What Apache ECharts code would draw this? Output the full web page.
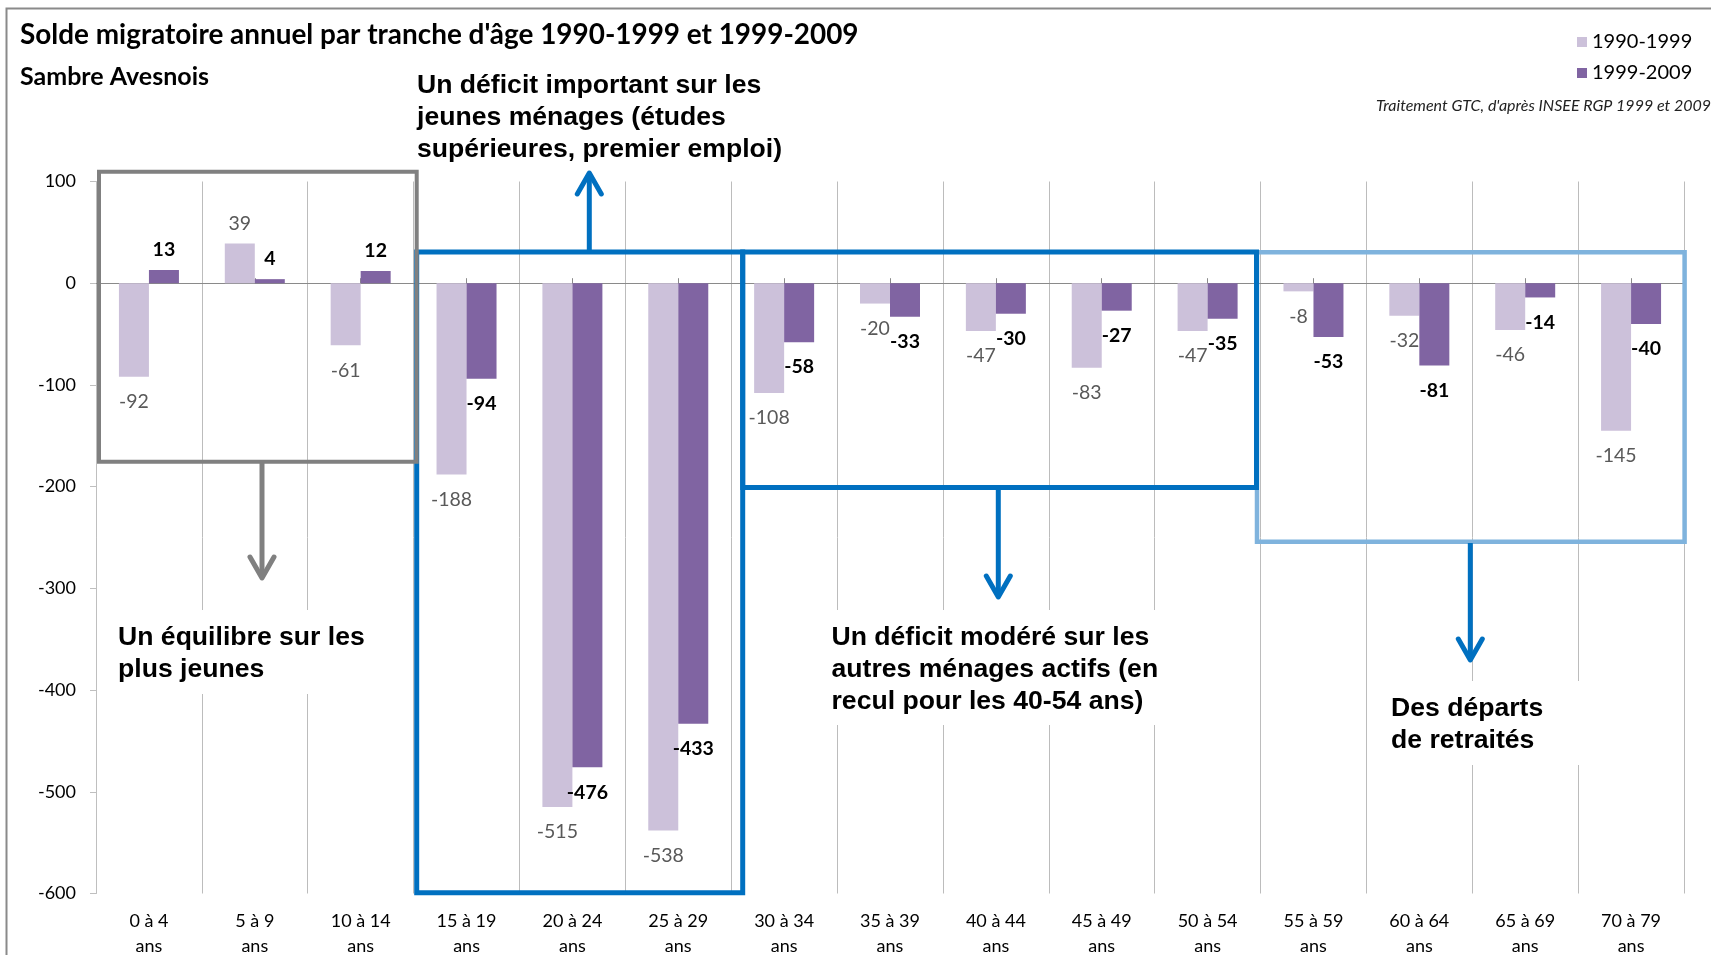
<!DOCTYPE html>
<html lang="fr">
<head>
<meta charset="UTF-8">
<title>Solde migratoire - Sambre Avesnois</title>
<script src="https://cdn.jsdelivr.net/npm/echarts@6/dist/echarts.min.js"></script>
<style>
    html, body { margin: 0; padding: 0; background: #fff; }
    #chart { width: 1711px; height: 955px; }
</style>
</head>
<body>
<div id="chart"></div>
<script type="text/javascript">
// tranches d'age
var categories = ['0 à 4 ans', '5 à 9 ans', '10 à 14 ans', '15 à 19 ans', '20 à 24 ans',
    '25 à 29 ans', '30 à 34 ans', '35 à 39 ans', '40 à 44 ans', '45 à 49 ans',
    '50 à 54 ans', '55 à 59 ans', '60 à 64 ans', '65 à 69 ans', '70 à 79 ans'];
var solde1990_1999 = [-92, 39, -61, -188, -515, -538, -108, -20, -47, -83, -47, -8, -32, -46, -145];
var solde1999_2009 = [13, 4, 12, -94, -476, -433, -58, -33, -30, -27, -35, -53, -81, -14, -40];
var seriesNames = ['1990-1999', '1999-2009'];

var BLUE = '#0070C0', LIGHTBLUE = '#7FB3DD', GREY = '#808080';
var noteFont = 'bold 26.6px "Liberation Sans", Arial, sans-serif';

// label below the bar for negative values, above for positive ones
function withLabelSide(values) {
    return values.map(function (v) {
        return {value: v, label: v < 0 ? {position: 'bottom', distance: 15} : {position: 'top', distance: 10}};
    });
}

function box(x1, y1, x2, y2, color, w) {
    return {type: 'rect', z: 100, shape: {x: x1, y: y1, width: x2 - x1, height: y2 - y1},
        style: {fill: null, stroke: color, lineWidth: w}};
}

function arrow(x, y1, y2, color) {
    var dir = y2 < y1 ? 1 : -1;
    return [
        {type: 'line', z: 101, shape: {x1: x, y1: y1, x2: x, y2: y2 + dir * 3},
            style: {stroke: color, lineWidth: 5}},
        {type: 'polyline', z: 101, shape: {points: [[x - 12, y2 + dir * 21], [x, y2], [x + 12, y2 + dir * 21]]},
            style: {stroke: color, lineWidth: 5, lineCap: 'round', lineJoin: 'round', fill: null}}
    ];
}

function note(x, y, text) {
    return {type: 'text', z: 102, x: x, y: y,
        style: {text: text, font: noteFont, fill: '#000', lineHeight: 31.6, verticalAlign: 'top'}};
}

function whiteBg(x, y, w, h) {
    return {type: 'rect', z: 90, shape: {x: x, y: y, width: w, height: h}, style: {fill: '#fff'}};
}

var elements = [
    // cadre
    {type: 'rect', z: 100, shape: {x: 6.5, y: 8.5, width: 1800, height: 1000},
        style: {fill: null, stroke: '#8a8a8a', lineWidth: 2}},
    whiteBg(100, 610, 313, 84),
    whiteBg(826, 610, 336, 115),
    whiteBg(1384, 681, 216, 84),
    box(1257, 252.3, 1684.6, 541.7, LIGHTBLUE, 4.5),
    box(416.7, 252, 742.7, 892.7, BLUE, 5),
    box(742.7, 252, 1256.5, 487.5, BLUE, 5),
    box(99, 171.7, 416.7, 461.7, GREY, 4),
    note(417, 70.2, 'Un déficit important sur les\njeunes ménages (études\nsupérieures, premier emploi)'),
    note(118, 622.2, 'Un équilibre sur les\nplus jeunes'),
    note(831.5, 622.2, 'Un déficit modéré sur les\nautres ménages actifs (en\nrecul pour les 40-54 ans)'),
    note(1391, 693.2, 'Des départs\nde retraités')
];
elements = elements
    .concat(arrow(262, 463, 578, GREY))
    .concat(arrow(589.3, 250, 173, BLUE))
    .concat(arrow(998.3, 489, 597, BLUE))
    .concat(arrow(1470.3, 543, 660, BLUE));

var chart = echarts.init(document.getElementById('chart'));
var option = {
    animation: false,
    backgroundColor: '#fff',
    title: [
        {text: "Solde migratoire annuel par tranche d'âge 1990-1999 et 1999-2009", left: 20, top: 21, padding: 0,
            textStyle: {fontFamily: 'Lato', fontWeight: 'bold', fontSize: 27.9, color: '#000'}},
        {text: 'Sambre Avesnois', left: 20, top: 64, padding: 0,
            textStyle: {fontFamily: 'Lato', fontWeight: 'bold', fontSize: 25, color: '#000'}},
        {text: "Traitement GTC, d'après INSEE RGP 1999 et 2009", left: 1376, top: 98, padding: 0,
            textStyle: {fontFamily: 'Lato', fontStyle: 'italic', fontWeight: 'normal', fontSize: 16, color: '#222'}}
    ],
    legend: {
        data: seriesNames, orient: 'vertical', left: 1577, top: 32, padding: 0,
        itemWidth: 10, itemHeight: 10, itemGap: 11, icon: 'rect',
        textStyle: {fontFamily: 'Lato', fontSize: 20, color: '#000'}
    },
    grid: {left: 96, right: 27, top: 181.5, bottom: 61.5, outerBoundsMode: 'none', containLabel: false},
    xAxis: [
        {
            type: 'category', data: categories, position: 'bottom',
            axisLine: {show: false, onZero: false},
            axisTick: {show: false},
            axisLabel: {
                interval: 0, margin: 15, fontFamily: 'Lato', fontSize: 18, color: '#000', lineHeight: 25,
                formatter: function (v) { return v.replace(' ans', '\nans'); }
            },
            splitLine: {show: true, interval: 0, lineStyle: {color: '#bcbcbc', width: 1}}
        },
        {
            type: 'category', data: categories, position: 'bottom',
            axisLine: {show: true, onZero: true, lineStyle: {color: '#8a8a8a', width: 1}},
            axisTick: {show: true, inside: true, alignWithLabel: true, length: 5, lineStyle: {color: '#8a8a8a'}},
            axisLabel: {show: false},
            splitLine: {show: false}
        }
    ],
    yAxis: {
        type: 'value', min: -600, max: 100, interval: 100,
        axisLine: {show: true, lineStyle: {color: '#bfbfbf'}},
        axisTick: {show: true, length: 6, lineStyle: {color: '#bfbfbf'}},
        axisLabel: {margin: 20, fontFamily: 'Lato', fontSize: 18, color: '#000'},
        splitLine: {show: false}
    },
    series: [
        {
            name: seriesNames[0], type: 'bar', xAxisIndex: 0, data: withLabelSide(solde1990_1999),
            barWidth: 30, barGap: '0%', itemStyle: {color: '#CCC1DA'},
            label: {show: true, fontFamily: 'Lato', fontSize: 19.5, color: '#595959'}
        },
        {
            name: seriesNames[1], type: 'bar', xAxisIndex: 0, data: withLabelSide(solde1999_2009),
            barWidth: 30, barGap: '0%', itemStyle: {color: '#8064A2'},
            label: {show: true, fontFamily: 'Lato', fontSize: 19.5, fontWeight: 'bold', color: '#000'}
        }
    ],
    graphic: {elements: elements}
};
chart.setOption(option);
</script>
</body>
</html>
